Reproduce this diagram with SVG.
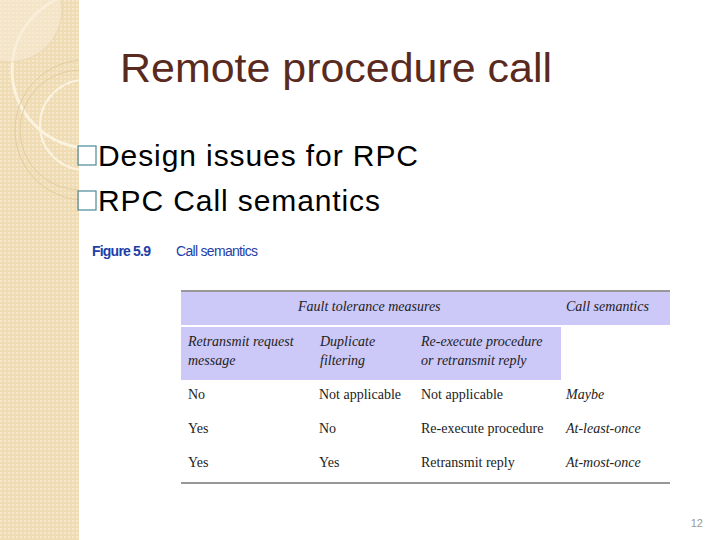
<svg xmlns="http://www.w3.org/2000/svg" width="720" height="540" viewBox="0 0 720 540">
<style>
.t{font-family:"Liberation Serif",serif;font-size:14px;fill:#222}
.i{font-style:italic}
.b{font-family:"Liberation Sans",sans-serif;font-size:30px;fill:#000}
.box{fill:none;stroke:#4a8a9a;stroke-width:1.2}
</style>
<defs>
<pattern id="p" width="4" height="4" patternUnits="userSpaceOnUse"><rect width="4" height="4" fill="#f0dcb4"/><rect width="2" height="2" fill="#f6e8cc"/></pattern>
<clipPath id="c"><rect width="79" height="540"/></clipPath>
</defs>
<rect width="720" height="540" fill="#fff"/>
<g id="side" clip-path="url(#c)">
<rect width="79" height="540" fill="url(#p)"/>
<circle cx="90" cy="70" r="78" fill="none" stroke="#fbf3e0" stroke-width="3"/>
<circle cx="10" cy="10" r="52" fill="#f8ecd6" opacity="0.6" stroke="#e6d2ac"/>
<circle cx="85" cy="125" r="45" fill="none" stroke="#fbf3e0" stroke-width="2"/>
<circle cx="85" cy="130" r="70" fill="none" stroke="#e2cca0"/>
<circle cx="80" cy="130" r="60" fill="none" stroke="#e2cca0"/>
</g>
<text id="title" x="120" y="82" font-family="Liberation Sans,sans-serif" font-size="40" fill="#5a2a1e" textLength="432" lengthAdjust="spacingAndGlyphs">Remote procedure call</text>
<g id="bullets">
<rect class="box" x="78" y="146" width="18" height="19"/>
<text class="b" x="98" y="166" textLength="320">Design issues for RPC</text>
<rect class="box" x="78" y="191" width="18" height="19"/>
<text class="b" x="98" y="211" textLength="282">RPC Call semantics</text>
</g>
<g id="caption" font-family="Liberation Sans,sans-serif" font-size="14" fill="#1e3ea8">
<text x="92" y="256" font-weight="bold" textLength="59">Figure 5.9</text>
<text x="176" y="256" textLength="82">Call semantics</text>
</g>
<g id="table">
<rect x="181" y="292" width="489" height="33" fill="#ccc8f8"/>
<rect x="181" y="327" width="380" height="53" fill="#ccc8f8"/>
<line x1="181" y1="291" x2="670" y2="291" stroke="#333" stroke-width="1.2"/>
<line x1="181" y1="483" x2="670" y2="483" stroke="#333" stroke-width="1.2"/>
<text class="t i" x="298" y="311">Fault tolerance measures</text>
<text class="t i" x="566" y="311">Call semantics</text>
<text class="t i" x="188" y="346">Retransmit request</text>
<text class="t i" x="188" y="365">message</text>
<text class="t i" x="320" y="346">Duplicate</text>
<text class="t i" x="320" y="365">filtering</text>
<text class="t i" x="421" y="346">Re-execute procedure</text>
<text class="t i" x="421" y="365">or retransmit reply</text>
<text class="t" x="188" y="399">No</text>
<text class="t" x="319" y="399">Not applicable</text>
<text class="t" x="421" y="399">Not applicable</text>
<text class="t i" x="566" y="399">Maybe</text>
<text class="t" x="188" y="433">Yes</text>
<text class="t" x="319" y="433">No</text>
<text class="t" x="421" y="433">Re-execute procedure</text>
<text class="t i" x="566" y="433">At-least-once</text>
<text class="t" x="188" y="467">Yes</text>
<text class="t" x="319" y="467">Yes</text>
<text class="t" x="421" y="467">Retransmit reply</text>
<text class="t i" x="566" y="467">At-most-once</text>
</g>
<text id="page" x="703" y="527" text-anchor="end" font-family="Liberation Sans,sans-serif" font-size="11" fill="#999">12</text>
</svg>
